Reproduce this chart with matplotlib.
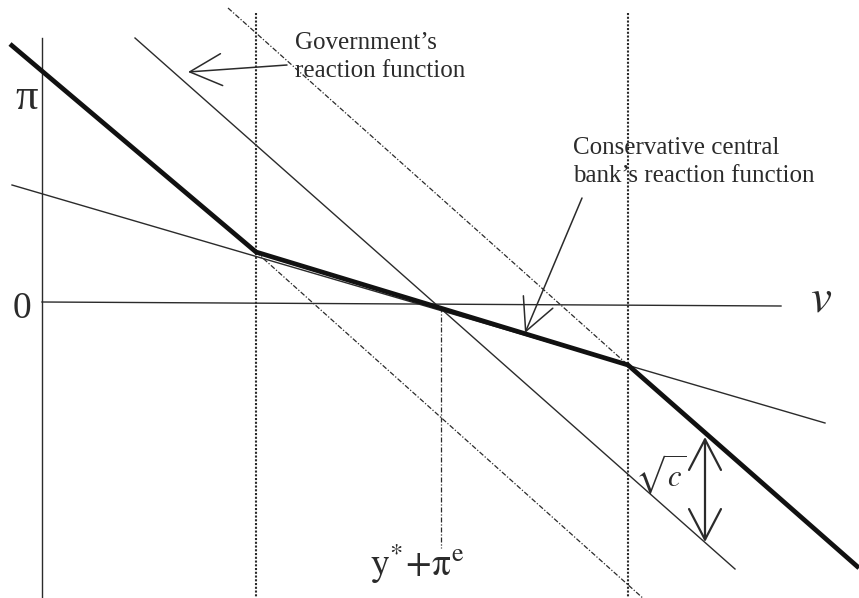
import matplotlib.pyplot as plt

plt.rcParams['mathtext.fontset'] = 'stix'
plt.rcParams['font.family'] = ['Liberation Serif', 'DejaVu Serif']

ink = '#2b2b2b'

# diagram geometry, in picture units (x to the right, y downward)
axis_v_x, axis_v_y = [42, 42], [38, 598]
axis_h_x, axis_h_y = [42, 781], [302, 306]

kinked_x = [10, 256, 628, 859]          # thick line
kinked_y = [44, 252, 365, 568]

cb_x, cb_y = [12, 825], [185, 423]      # flat reaction function
gov_x, gov_y = [135, 735], [38, 569]    # steep reaction function

upper_dd_x, upper_dd_y = [228, 628], [8, 365]
lower_dd_x, lower_dd_y = [256, 645], [252, 600]

bounds_x = [256, 628]
bounds_y = [13, 598]

mid_x = 441
mid_y = [307, 548]

sqrt_c_x, sqrt_c_y = 705, [437, 542]

fig = plt.figure(figsize=(8.59, 5.98), dpi=100)
ax = fig.add_axes([0, 0, 1, 1])
ax.set_xlim(0, 859)
ax.set_ylim(598, 0)
ax.axis('off')

ax.plot(axis_v_x, axis_v_y, color=ink, lw=1.0)
ax.plot(axis_h_x, axis_h_y, color=ink, lw=1.0)

for bx in bounds_x:
    ax.plot([bx, bx], bounds_y, color=ink, lw=1.5, ls=(0, (1, 0.8)))
ax.plot([mid_x, mid_x], mid_y, color=ink, lw=0.9, ls=(0, (4, 1.5, 1, 1.5)))

ax.plot(upper_dd_x, upper_dd_y, color=ink, lw=0.9, ls=(0, (4, 1.5, 1, 1.5)))
ax.plot(lower_dd_x, lower_dd_y, color=ink, lw=0.9, ls=(0, (4, 1.5, 1, 1.5)))

ax.plot(cb_x, cb_y, color=ink, lw=1.0)
ax.plot(gov_x, gov_y, color=ink, lw=1.0)
ax.plot(kinked_x, kinked_y, color='#111111', lw=3.4, solid_capstyle='butt')

head = '->,head_length=2.3,head_width=1.15'
ax.annotate('', xy=(188, 72), xytext=(287, 65),
            arrowprops=dict(arrowstyle=head, mutation_scale=10, color=ink,
                            lw=1.1, shrinkA=0, shrinkB=0))
ax.annotate('', xy=(525, 333), xytext=(582, 198),
            arrowprops=dict(arrowstyle=head, mutation_scale=10, color=ink,
                            lw=1.1, shrinkA=0, shrinkB=0))
ax.annotate('', xy=(sqrt_c_x, sqrt_c_y[0]), xytext=(sqrt_c_x, sqrt_c_y[1]),
            arrowprops=dict(arrowstyle='<->,head_length=2.2,head_width=1.15',
                            mutation_scale=10, color=ink, lw=1.6,
                            shrinkA=0, shrinkB=0))

ax.text(295, 57, "Government\u2019s\nreaction function", fontsize=18,
        color=ink, ha='left', va='center', linespacing=1.35)
ax.text(573, 162, "Conservative central\nbank\u2019s reaction function",
        fontsize=18, color=ink, ha='left', va='center', linespacing=1.35)

ax.text(27, 98, '\u03c0', fontsize=32, color=ink, ha='center', va='center')
ax.text(22, 309, '0', fontsize=27, color=ink, ha='center', va='center')
ax.text(821, 300, '$v$', fontsize=34, color=ink, ha='center', va='center')
ax.text(417, 576, r'$\mathrm{y}^{*}\!+\!\mathrm{\pi}^{\mathrm{e}}$', fontsize=27,
        color=ink, ha='center', va='baseline')
ax.text(661, 474, r'$\sqrt{c}$', fontsize=22, color=ink,
        ha='center', va='center')

fig.savefig('out.png', dpi=100)
